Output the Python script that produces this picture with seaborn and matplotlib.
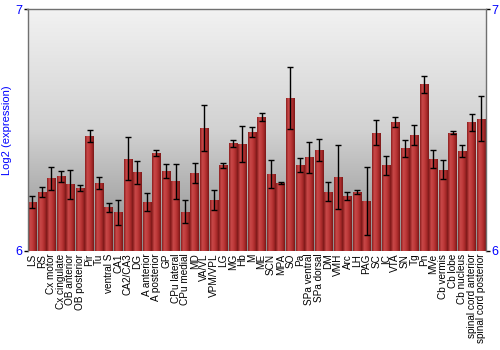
import numpy as np
import pandas as pd
import matplotlib
matplotlib.use("Agg")
import matplotlib.pyplot as plt
import seaborn as sns
from matplotlib.colors import LinearSegmentedColormap

regions = ["LS", "RS", "Cx motor", "Cx cingulate", "OB anterior", "OB posterior", "Pir", "Tu",
           "ventral S", "CA1", "CA2/CA3", "DG", "A anterior", "A posterior", "GP", "CPu lateral",
           "CPu medial", "MD", "VA/VL", "VPM/VPL", "LG", "MG", "Hb", "M", "ME", "SCN", "MPA", "SO",
           "Pa", "SPa ventral", "SPa dorsal", "DM", "VMH", "Arc", "LH", "PAG", "SC", "IC", "VTA",
           "SN", "Tg", "Pn", "MVe", "Cb vermis", "Cb lobe", "Cb nucleus", "spinal cord anterior",
           "spinal cord posterior"]

expression = [6.202, 6.244, 6.301, 6.309, 6.276, 6.261, 6.475, 6.280,
              6.180, 6.160, 6.381, 6.326, 6.202, 6.405, 6.330, 6.289,
              6.163, 6.322, 6.508, 6.211, 6.355, 6.445, 6.442, 6.492, 6.554, 6.318, 6.282, 6.633,
              6.355, 6.387, 6.419, 6.246, 6.307, 6.229, 6.243, 6.206, 6.490, 6.355, 6.535,
              6.425, 6.481, 6.691, 6.380, 6.337, 6.490, 6.414, 6.533,
              6.547]

errors = [0.026, 0.020, 0.047, 0.023, 0.060, 0.013, 0.025, 0.025,
          0.017, 0.051, 0.089, 0.047, 0.037, 0.012, 0.029, 0.072,
          0.046, 0.041, 0.096, 0.043, 0.010, 0.015, 0.075, 0.022, 0.016, 0.057, 0.005, 0.130,
          0.028, 0.066, 0.046, 0.041, 0.132, 0.017, 0.008, 0.142, 0.052, 0.039, 0.021,
          0.036, 0.041, 0.035, 0.037, 0.041, 0.007, 0.023, 0.035,
          0.093]

y_ticks = [6, 7]

df = pd.DataFrame({"region": regions, "expression": expression, "err": errors})

fig = plt.figure(figsize=(5, 3.5), dpi=100)
ax = fig.add_axes([0.055, 0.283, 0.917, 0.690])

ymin, ymax = 6, 7
# background gradient: light at top, darker at bottom
bg = np.linspace(0, 1, 256).reshape(-1, 1)
bg_cmap = LinearSegmentedColormap.from_list("bg", ["#f2f2f2", "#d2d2d2", "#8c8c8c"])
ax.imshow(bg, aspect="auto", cmap=bg_cmap, extent=[-0.5, len(regions) - 0.5, ymin, ymax],
          origin="upper", zorder=0)

sns.barplot(data=df, x="region", y="expression", color="#b03030", width=0.88,
            errorbar=None, ax=ax, zorder=2, bottom=0)

# gradient fill for bars
bar_cmap = LinearSegmentedColormap.from_list(
    "bar", ["#8a1e1e", "#c84848", "#c03c3c", "#a82a2a", "#7a1818"])
grad = np.linspace(0, 1, 64).reshape(1, -1)
for p in ax.patches:
    x0 = p.get_x()
    w = p.get_width()
    h = p.get_height()
    y0 = p.get_y()
    im = ax.imshow(grad, aspect="auto", cmap=bar_cmap,
                   extent=[x0, x0 + w, ymin, y0 + h], zorder=2.5)
    im.set_clip_path(p)
    p.set_edgecolor("none")

centers = [p.get_x() + p.get_width() / 2 for p in ax.patches]
ax.errorbar(centers, df["expression"], yerr=df["err"], fmt="none", ecolor="black",
            elinewidth=1.0, capsize=2.2, capthick=1.0, zorder=4)

ax.set_xlim(-0.5, len(regions) - 0.5)
ax.set_ylim(ymin, ymax)
ax.set_xlabel("")
ax.set_ylabel("Log2 (expression)", color="#0000ff", fontsize=8, labelpad=2,
              family=["Liberation Sans", "DejaVu Sans"])

ax.set_yticks(y_ticks)
ax.set_yticklabels([str(t) for t in y_ticks], color="#0000ff", fontsize=9,
                   family=["Liberation Sans", "DejaVu Sans"])
ax.tick_params(axis="y", which="both", left=True, right=True, labelleft=True, labelright=True,
               length=3, width=1, pad=1, color="black")
ax.set_xticks(range(len(regions)))
ax.set_xticklabels(regions, rotation=90, fontsize=7.2,
                   family=["Liberation Sans", "DejaVu Sans"])
ax.tick_params(axis="x", length=0, pad=2)

for side in ["left", "right", "top"]:
    ax.spines[side].set_color("#707070")
    ax.spines[side].set_linewidth(1)
ax.spines["bottom"].set_visible(False)

fig.patch.set_facecolor("white")
fig.savefig("out.png", dpi=100, facecolor="white")
